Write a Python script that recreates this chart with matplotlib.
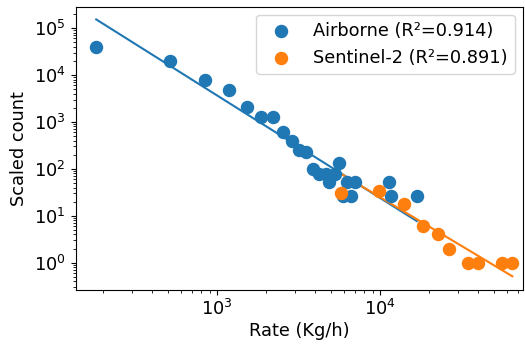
import matplotlib
matplotlib.use("Agg")
import matplotlib.pyplot as plt
import numpy as np

# airborne detections: rate (kg/h) vs scaled count
air_rate = [182, 518, 848, 1190, 1535, 1867, 2210, 2550, 2890, 3190, 3520,
            3875, 4230, 4670, 4890, 5320, 5590, 6250, 7030, 5960, 6620,
            11400, 11730, 16790]
air_count = [40000, 20000, 7700, 4700, 2100, 1250, 1250, 600, 400, 250, 225,
             100, 78, 78, 52, 78, 130, 52, 52, 26, 26,
             52, 26, 26]

# sentinel-2 detections
s2_rate = [5770, 9910, 14100, 18270, 22560, 26560, 34730, 39630, 56100, 64600]
s2_count = [30, 33, 18, 6, 4, 2, 1, 1, 1, 1]

# power-law fits, log10(count) = a + b*log10(rate)
air_fit = (10.123, -2.186)
s2_fit = (9.707, -2.078)
air_r2 = 0.914
s2_r2 = 0.891

FS = 12.8


def fitline(x, fit):
    a, b = fit
    lx = np.linspace(np.log10(min(x)), np.log10(max(x)), 50)
    return 10 ** lx, 10 ** (a + b * lx)


fig = plt.figure(figsize=(5.25, 3.44), dpi=100)
ax = fig.add_axes([0.144, 0.158, 0.852, 0.822])

ax.scatter(air_rate, air_count, s=75, color="#1f77b4", zorder=3,
           label="Airborne (R²=%.3f)" % air_r2)
ax.scatter(s2_rate, s2_count, s=75, color="#ff7f0e", zorder=3,
           label="Sentinel-2 (R²=%.3f)" % s2_r2)

fx, fy = fitline(air_rate, air_fit)
ax.plot(fx, fy, color="#1f77b4", lw=1.5, zorder=2)
fx, fy = fitline(s2_rate, s2_fit)
ax.plot(fx, fy, color="#ff7f0e", lw=1.5, zorder=2)

ax.set_xscale("log")
ax.set_yscale("log")
ax.set_xlim(136, 75000)
ax.set_ylim(0.267, 2.82e5)

ax.set_xlabel("Rate (Kg/h)", fontsize=FS, labelpad=2)
ax.set_ylabel("Scaled count", fontsize=FS)
ax.tick_params(labelsize=FS)
ax.legend(loc="upper right", fontsize=FS, borderaxespad=0.45)

fig.savefig("out.png", dpi=100)
